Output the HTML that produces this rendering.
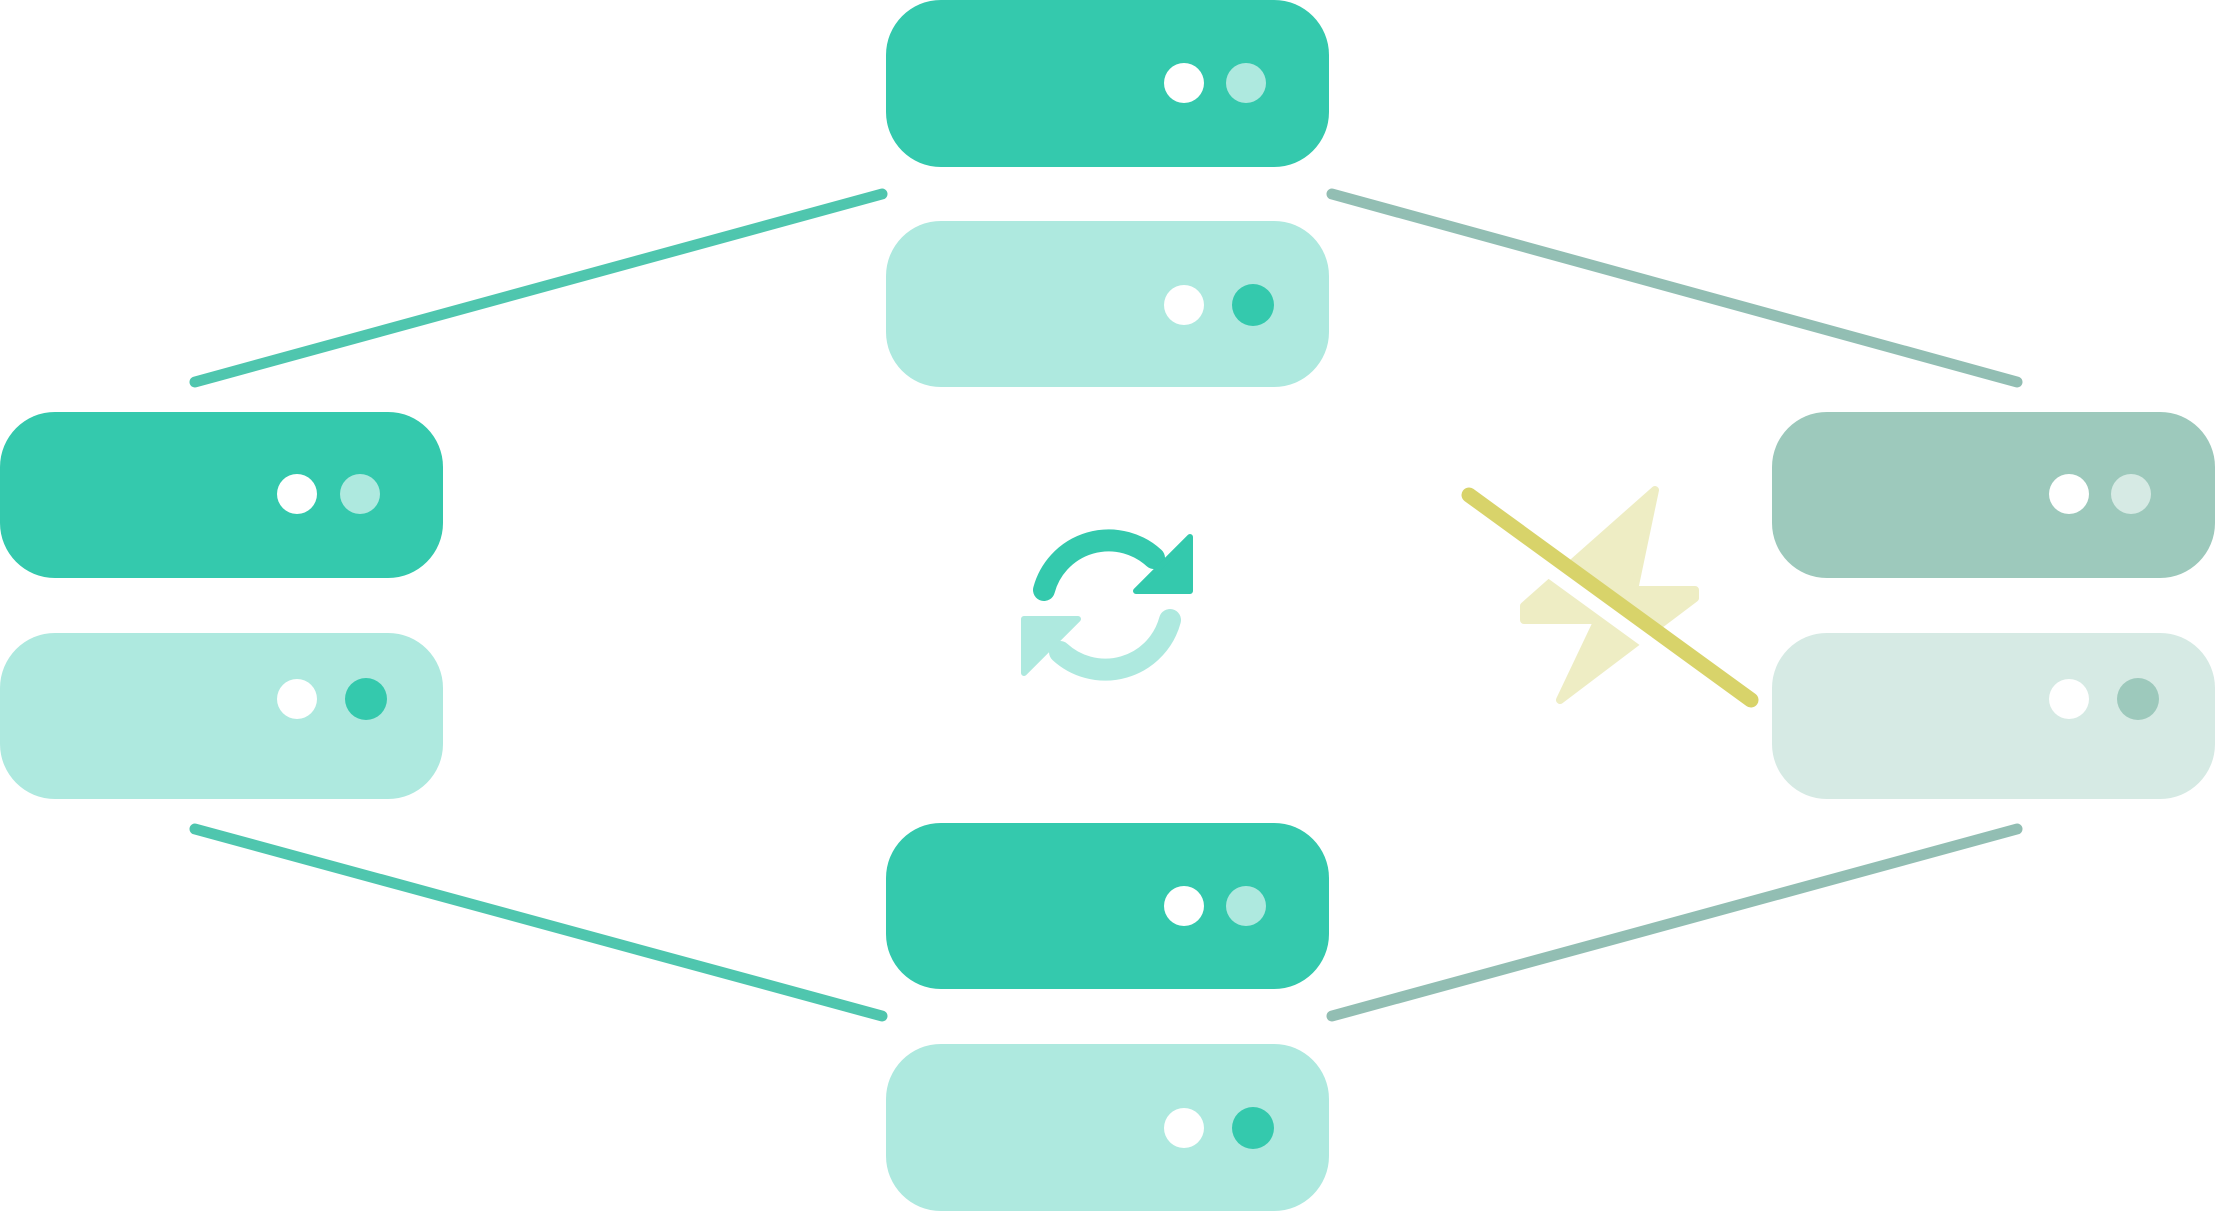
<!DOCTYPE html>
<html><head><meta charset="utf-8"><style>html,body{margin:0;padding:0;background:#fff}svg{display:block}</style></head>
<body>
<svg width="2215" height="1211" viewBox="0 0 2215 1211" xmlns="http://www.w3.org/2000/svg">
<!-- connectors -->
<g stroke-width="11" stroke-linecap="round" fill="none">
<line x1="195" y1="382" x2="882" y2="194" stroke="#4fc6ae"/>
<line x1="1332" y1="194" x2="2017" y2="382" stroke="#92beb3"/>
<line x1="195" y1="829" x2="882" y2="1016" stroke="#4fc6ae"/>
<line x1="1332" y1="1016" x2="2017" y2="829" stroke="#92beb3"/>
</g>
<!-- top servers -->
<rect x="886" y="0" width="443" height="167" rx="55" fill="#34c9ad"/>
<circle cx="1184" cy="83" r="20" fill="#fff"/><circle cx="1246" cy="83" r="20" fill="#aee9df"/>
<rect x="886" y="221" width="443" height="166" rx="55" fill="#aee9df"/>
<circle cx="1184" cy="305" r="20" fill="#fff"/><circle cx="1253" cy="305" r="21" fill="#34c9ad"/>
<!-- left servers -->
<rect x="0" y="412" width="443" height="166" rx="55" fill="#34c9ad"/>
<circle cx="297" cy="494" r="20" fill="#fff"/><circle cx="360" cy="494" r="20" fill="#aee9df"/>
<rect x="0" y="633" width="443" height="166" rx="55" fill="#aee9df"/>
<circle cx="297" cy="699" r="20" fill="#fff"/><circle cx="366" cy="699" r="21" fill="#34c9ad"/>
<!-- right servers -->
<rect x="1772" y="412" width="443" height="166" rx="55" fill="#9dc9bc"/>
<circle cx="2069" cy="494" r="20" fill="#fff"/><circle cx="2131" cy="494" r="20" fill="#d6eae4"/>
<rect x="1772" y="633" width="443" height="166" rx="55" fill="#d6eae4"/>
<circle cx="2069" cy="699" r="20" fill="#fff"/><circle cx="2138" cy="699" r="21" fill="#9dc9bc"/>
<!-- bottom servers -->
<rect x="886" y="823" width="443" height="166" rx="55" fill="#34c9ad"/>
<circle cx="1184" cy="906" r="20" fill="#fff"/><circle cx="1246" cy="906" r="20" fill="#aee9df"/>
<rect x="886" y="1044" width="443" height="167" rx="55" fill="#aee9df"/>
<circle cx="1184" cy="1128" r="20" fill="#fff"/><circle cx="1253" cy="1128" r="21" fill="#34c9ad"/>
<!-- sync icon -->
<g>
<path d="M1044,590 A67,67 0 0 1 1154,558" stroke="#34c9ad" stroke-width="22" fill="none" stroke-linecap="round"/>
<path d="M1136,591 L1190,591 L1190,537 Z" fill="#34c9ad" stroke="#34c9ad" stroke-width="6" stroke-linejoin="round"/>
<g transform="rotate(180 1107 605)">
<path d="M1044,590 A67,67 0 0 1 1154,558" stroke="#aee9df" stroke-width="22" fill="none" stroke-linecap="round"/>
<path d="M1136,591 L1190,591 L1190,537 Z" fill="#aee9df" stroke="#aee9df" stroke-width="6" stroke-linejoin="round"/>
</g>
</g>
<!-- lightning off -->
<path d="M1655,490 L1524,606 L1524,620 L1598,620 L1560,700 L1695,598 L1695,590 L1634,590 Z" fill="#eeedc4" stroke="#eeedc4" stroke-width="8" stroke-linejoin="round"/>
<line x1="1462" y1="506" x2="1744" y2="711" stroke="#fff" stroke-width="16" stroke-linecap="round"/>
<line x1="1469" y1="495" x2="1751" y2="700" stroke="#d8d36a" stroke-width="15" stroke-linecap="round"/>
</svg>
</body></html>
